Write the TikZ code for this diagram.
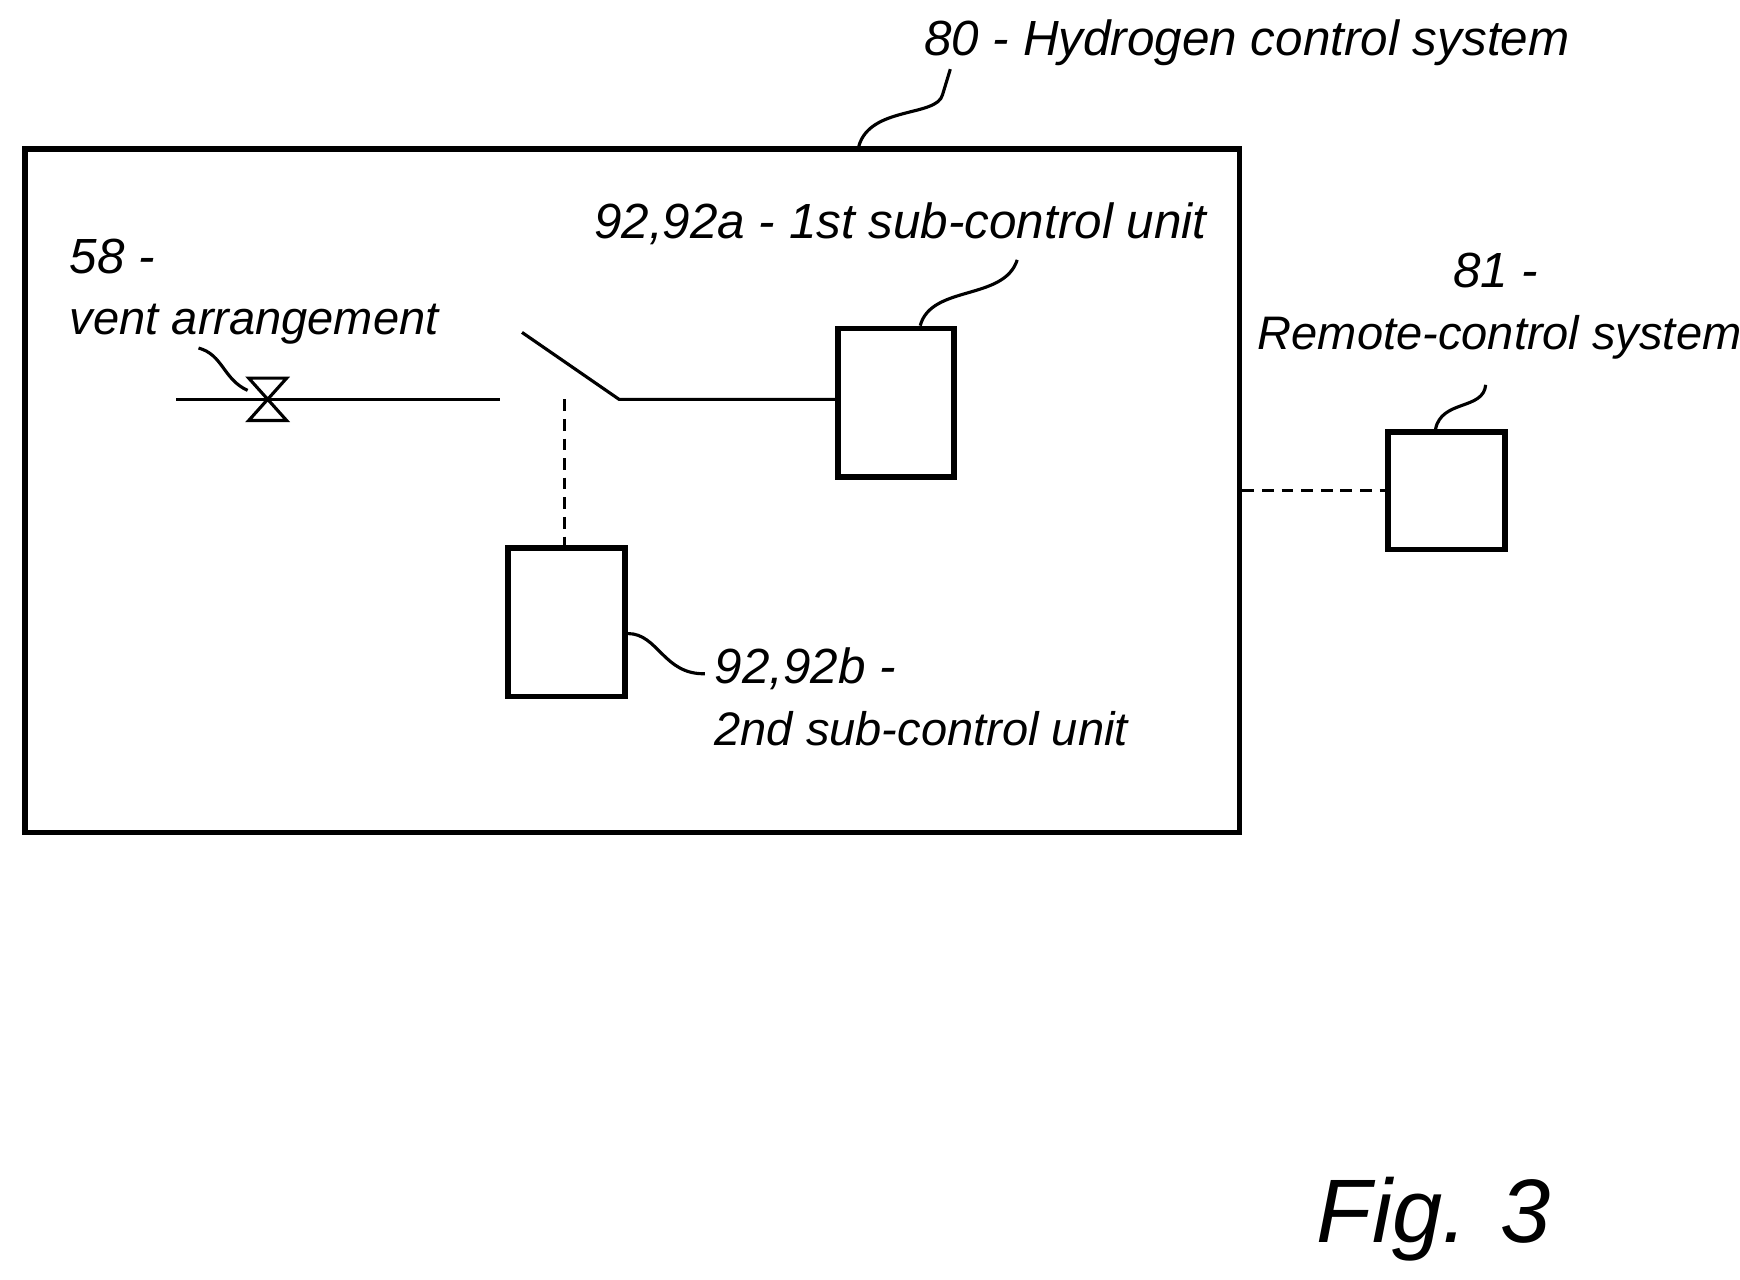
\documentclass[tikz,border=0pt]{standalone}
\usepackage{fontspec}
\setmainfont{Liberation Sans}
\usetikzlibrary{positioning}
\tikzset{
  unit/.style={draw, line width=1.4pt, inner sep=0pt},
  lbl/.style={anchor=base west, inner sep=0pt, font=\itshape\fontsize{12}{14}\selectfont},
  num/.style={lbl, font=\itshape\fontsize{12.6}{15}\selectfont},
  lead/.style={line width=0.8pt},
  link/.style={line width=0.8pt, densely dashed}
}
\begin{document}
\begin{tikzpicture}[x=0.1mm, y=-0.1mm]
  \useasboundingbox (0,0) rectangle (1560,1147);
  % frame and units
  \node[unit, minimum width=108.9mm, minimum height=61.3mm, anchor=north west] (sys) at (20,131) {};
  \node[unit, minimum width=10.4mm, minimum height=13.3mm, anchor=north west] (ua) at (749,292) {};
  \node[unit, minimum width=10.5mm, minimum height=13.3mm, anchor=north west] (ub) at (453,489) {};
  \node[unit, minimum width=10.5mm, minimum height=10.5mm, anchor=north west] (rc) at (1242,385) {};
  % pipe, valve and switch
  \coordinate (p0) at (158,358);
  \coordinate (p1) at (448,358);
  \coordinate (v) at (240,358);
  \coordinate (s0) at (468,298);
  \coordinate (s1) at (555,358);
  \coordinate (d0) at (506,358);
  \draw[lead] (p0) -- (p1);
  \draw[lead] (v) -- ++(-17,-19) -- ++(34,0) -- cycle;
  \draw[lead] (v) -- ++(-17,19) -- ++(34,0) -- cycle;
  \draw[lead] (s0) -- (s1) -- (s1 -| ua.west);
  \draw[link] (d0) -- (d0 |- ub.north);
  \draw[link] (sys.east |- rc.west) -- (rc.west);
  % labels
  \node[num] (l80) at (828,50) {80 - Hydrogen control system};
  \node[num] (l92a) at (532,214) {92,92a - 1st sub-control unit};
  \node[num] (l58) at (62,245) {58 -};
  \node[lbl] (l58b) at (62,300) {vent arrangement};
  \node[num] (l81) at (1302,258) {81 -};
  \node[lbl] (l81b) at (1127,313) {Remote-control system};
  \node[num] (l92b) at (640,613) {92,92b -};
  \node[lbl] (l92bb) at (640,668) {2nd sub-control unit};
  \node[lbl, font=\itshape\fontsize{23}{27}\selectfont] (fig) at (1180,1114) {Fig. 3};
  % leaders
  \draw[lead] (770,131) .. controls (780,95) and (840,105) .. (845,85) -- (852,62);
  \draw[lead] (825,292) .. controls (835,255) and (900,270) .. (912,233);
  \draw[lead] (222,350) .. controls (200,340) and (200,318) .. (178,312);
  \draw[lead] (1287,385) .. controls (1292,358) and (1330,368) .. (1332,345);
  \draw[lead] (ub.east |- 0,568) .. controls (590,568) and (595,605) .. (632,604);
\end{tikzpicture}
\end{document}
